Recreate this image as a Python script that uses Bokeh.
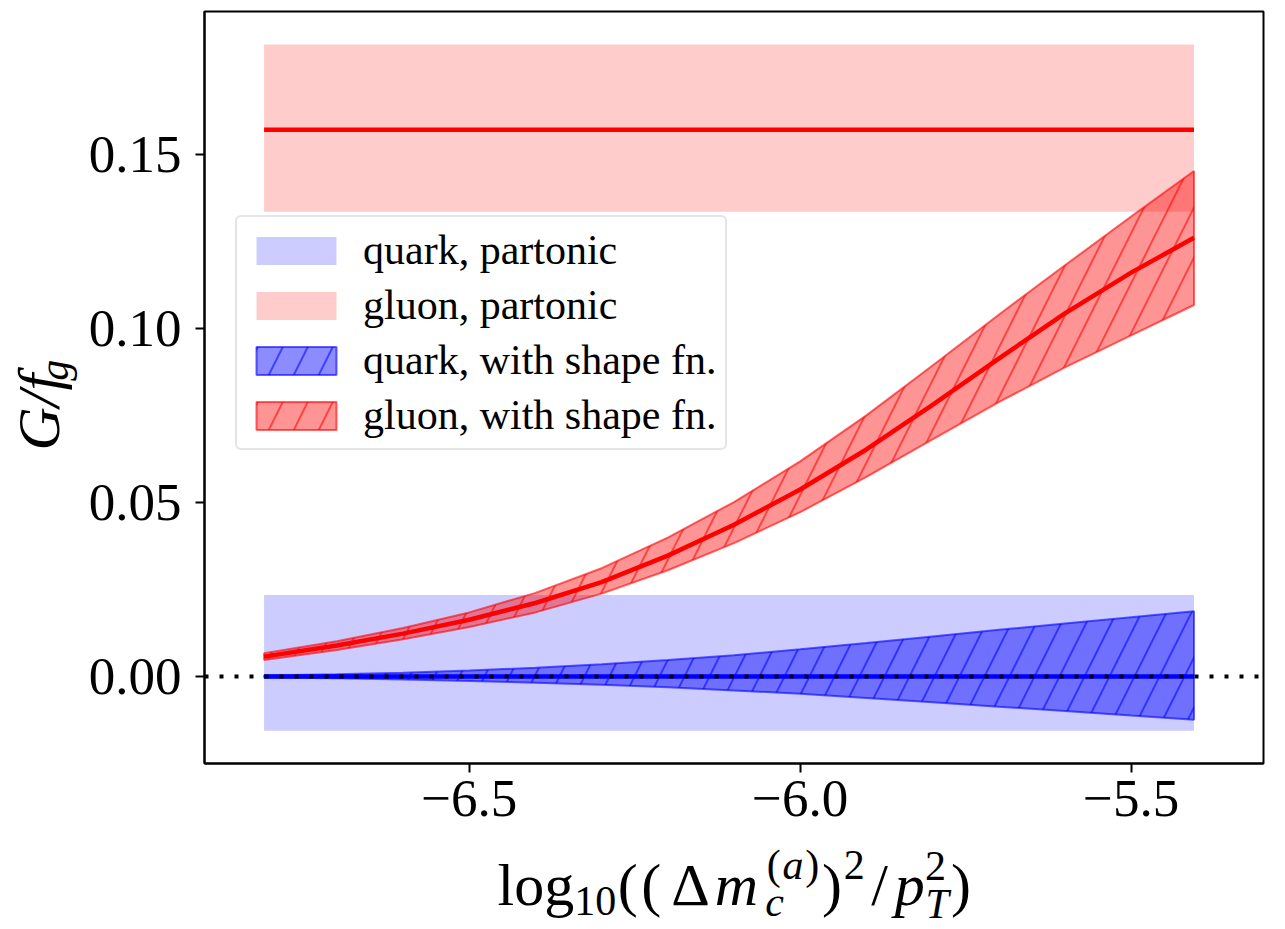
import math
from bokeh.plotting import figure
from bokeh.layouts import row, column
from bokeh.models import Range1d, FixedTicker, Span, Label, Legend, LegendItem
from bokeh.embed import file_html
from bokeh.resources import INLINE

# ---------------- data ----------------
X = [-6.81, -6.7, -6.6, -6.5, -6.4, -6.3, -6.2, -6.1, -6.0, -5.9, -5.8, -5.7, -5.6, -5.5, -5.405]

gluon_shape_c = [0.0057, 0.0089, 0.0123, 0.0163, 0.0211, 0.0271, 0.0347, 0.0436, 0.0537,
                 0.0652, 0.0780, 0.0913, 0.1043, 0.1160, 0.1260]
gluon_shape_hi = [0.0067, 0.0101, 0.0139, 0.0184, 0.0240, 0.0311, 0.0399, 0.0501, 0.0618,
                  0.0750, 0.0893, 0.1039, 0.1181, 0.1321, 0.1452]
gluon_shape_lo = [0.0047, 0.0076, 0.0107, 0.0142, 0.0184, 0.0238, 0.0305, 0.0383, 0.0472,
                  0.0573, 0.0681, 0.0788, 0.0888, 0.0980, 0.1067]

quark_shape_c = [0.0, 0.0, 0.0, 0.0, 0.0, 0.0, 0.0, 0.0, 0.0, 0.0, 0.0, 0.0, 0.0, 0.0, 0.0]
quark_shape_hi = [0.0003, 0.0006, 0.0011, 0.0017, 0.0025, 0.0035, 0.0047, 0.0061, 0.0078,
                  0.0096, 0.0115, 0.0134, 0.0152, 0.0170, 0.0187]
quark_shape_lo = [-0.0003, -0.0005, -0.0009, -0.0013, -0.0018, -0.0024, -0.0031, -0.0040, -0.0050,
                  -0.0062, -0.0074, -0.0087, -0.0099, -0.0112, -0.0124]

# partonic results: [low, central, high]
gluon_partonic = [0.1335, 0.157, 0.1815]
quark_partonic = [-0.0156, 0.0, 0.0234]

x_ticks = [-6.5, -6.0, -5.5]
x_tick_labels = ["\u22126.5", "\u22126.0", "\u22125.5"]
y_ticks = [0.0, 0.05, 0.10, 0.15]
y_tick_labels = ["0.00", "0.05", "0.10", "0.15"]

legend_labels = ["quark, partonic", "gluon, partonic",
                 "quark, with shape fn.", "gluon, with shape fn."]

# ---------------- layout (page pixels) ----------------
TOTAL_W, TOTAL_H = 1280, 928
YLAB_W = 84                      # strip left of the plot holding the y label
FRAME_L, FRAME_R, FRAME_T, FRAME_B = 204, 1263, 11, 763
PLOT_H = 841                     # main plot canvas height
X0, X1 = -6.9, -5.3
Y0, Y1 = -0.025, 0.191
SERIF = "Liberation Serif"

PW = TOTAL_W - YLAB_W
p = figure(width=PW, height=PLOT_H, output_backend="svg", toolbar_location=None,
           x_range=Range1d(X0, X1), y_range=Range1d(Y0, Y1),
           min_border_left=FRAME_L - YLAB_W, min_border_right=TOTAL_W - FRAME_R,
           min_border_top=FRAME_T, min_border_bottom=PLOT_H - FRAME_B)
p.background_fill_color = "white"
p.border_fill_color = "white"
p.xgrid.visible = False
p.ygrid.visible = False
p.outline_line_color = "black"
p.outline_line_width = 2

p.xaxis.ticker = FixedTicker(ticks=x_ticks)
p.xaxis.major_label_overrides = {t: l for t, l in zip(x_ticks, x_tick_labels)}
p.yaxis.ticker = FixedTicker(ticks=y_ticks)
p.yaxis.major_label_overrides = {t: l for t, l in zip(y_ticks, y_tick_labels)}
for ax in (p.xaxis, p.yaxis):
    ax.major_label_text_font = SERIF
    ax.major_label_text_font_size = "53px"
    ax.major_label_text_color = "black"
    ax.major_tick_out = 9
    ax.major_tick_in = 0
    ax.major_tick_line_width = 2
    ax.major_tick_line_color = "black"
    ax.minor_tick_line_color = None
    ax.axis_line_width = 2
    ax.axis_line_color = "black"
p.xaxis.major_label_standoff = 8
p.yaxis.major_label_standoff = 14

# ---------------- glyphs ----------------
xe = [X[0], X[-1]]
r_qp = p.varea(x=xe, y1=[quark_partonic[0]] * 2, y2=[quark_partonic[2]] * 2,
               fill_color="#0000ff", fill_alpha=0.2)
r_gp = p.varea(x=xe, y1=[gluon_partonic[0]] * 2, y2=[gluon_partonic[2]] * 2,
               fill_color="#ff0000", fill_alpha=0.2)

r_qs = p.patch(x=X + X[::-1], y=quark_shape_hi + quark_shape_lo[::-1],
               fill_color="#0000ff", fill_alpha=0.45,
               line_color="#0000ff", line_alpha=0.6, line_width=2,
               hatch_pattern="/", hatch_color="#0000ff", hatch_alpha=0.55,
               hatch_weight=2, hatch_scale=50)
r_gs = p.patch(x=X + X[::-1], y=gluon_shape_hi + gluon_shape_lo[::-1],
               fill_color="#ff0000", fill_alpha=0.42,
               line_color="#ff0000", line_alpha=0.6, line_width=2,
               hatch_pattern="/", hatch_color="#ff0000", hatch_alpha=0.55,
               hatch_weight=2, hatch_scale=50)

p.line(x=xe, y=[gluon_partonic[1]] * 2, line_color="#ff0000", line_width=4.5)
p.line(x=X, y=quark_shape_c, line_color="#0000ff", line_width=4.5)
p.line(x=X, y=gluon_shape_c, line_color="#ff0000", line_width=4.5, line_join="round")

p.add_layout(Span(location=0.0, dimension="width", line_color="black",
                  line_width=4, line_dash="4 11"))

# ---------------- legend ----------------
legend = Legend(items=[LegendItem(label=legend_labels[0], renderers=[r_qp]),
                       LegendItem(label=legend_labels[1], renderers=[r_gp]),
                       LegendItem(label=legend_labels[2], renderers=[r_qs]),
                       LegendItem(label=legend_labels[3], renderers=[r_gs])],
                location=(31, 313))
legend.label_text_font = SERIF
legend.label_text_font_size = "42px"
legend.label_text_color = "black"
legend.label_height = 48
legend.glyph_width = 100
legend.glyph_height = 35
legend.label_standoff = 17
legend.spacing = 7
legend.padding = 9
legend.margin = 0
legend.border_line_color = "#cccccc"
legend.border_line_width = 2
legend.background_fill_alpha = 0.85
try:
    legend.border_radius = 6
except Exception:
    pass
p.add_layout(legend)


# ---------------- composed axis labels (real text) ----------------
def strip(width, height, top):
    f = figure(width=width, height=height, output_backend="svg", toolbar_location=None,
               x_range=Range1d(0, width), y_range=Range1d(top + height, top),
               x_axis_location=None, y_axis_location=None,
               min_border_left=0, min_border_right=0, min_border_top=0, min_border_bottom=0)
    f.outline_line_color = None
    f.background_fill_color = "white"
    f.border_fill_color = "white"
    f.xgrid.visible = False
    f.ygrid.visible = False
    return f


MID = 0.3375   # distance (in em) from the text box middle down to the baseline
ROT_SHIFT = 52  # measured along-text offset of rotated labels (px)


def piece(fig, text, px, base, size, italic=False, align="center"):
    # horizontal text: base is the baseline's page y
    fig.add_layout(Label(x=px, y=base - MID * size, text=text, text_font=SERIF,
                         text_font_size=f"{size}px",
                         text_font_style="italic" if italic else "normal",
                         text_align=align, text_baseline="middle",
                         text_color="black"))


def vpiece(fig, text, base_x, start_y, size, italic=False):
    # text rotated by 90 degrees, read bottom to top; base_x is the baseline's page x
    fig.add_layout(Label(x=base_x - MID * size - 5, y=start_y + ROT_SHIFT, text=text,
                         text_font=SERIF, text_font_size=f"{size}px",
                         text_font_style="italic" if italic else "normal",
                         text_align="left", text_baseline="middle",
                         text_color="black", angle=math.pi / 2))


M, S = 60, 42
xl = strip(TOTAL_W, TOTAL_H - PLOT_H, PLOT_H)
# x label: log10((Δm_c^(a))^2/p_T^2)
B = 905
piece(xl, "log", 535.3, B, M)
piece(xl, "10", 594.7, B + 10, S)
piece(xl, "(", 627.3, B, M)
piece(xl, "(", 650.7, B, M)
piece(xl, "\u0394", 690.0, B, M)
piece(xl, "m", 736.0, B, M, italic=True)
piece(xl, "c", 774.1, B + 11, S, italic=True)
piece(xl, "(", 773.2, B - 26, S)
piece(xl, "a", 792.4, B - 26, S, italic=True)
piece(xl, ")", 811.7, B - 26, S)
piece(xl, ")", 831.6, B, M)
piece(xl, "2", 853.7, B - 26, S)
piece(xl, "/", 879.2, B, M)
piece(xl, "p", 909.3, B, M, italic=True)
piece(xl, "2", 934.9, B - 25, S)
piece(xl, "T", 936.7, B + 13, S, italic=True)
piece(xl, ")", 960.6, B, M)

yl = strip(YLAB_W, PLOT_H, 0)
# y label: G/f_g (rotated)
vpiece(yl, "G/f", 64, 439, M, italic=True)
vpiece(yl, "g", 73, 361, S, italic=True)

layout = column(row(yl, p), xl)
open("out.html", "w").write(file_html(layout, INLINE))
